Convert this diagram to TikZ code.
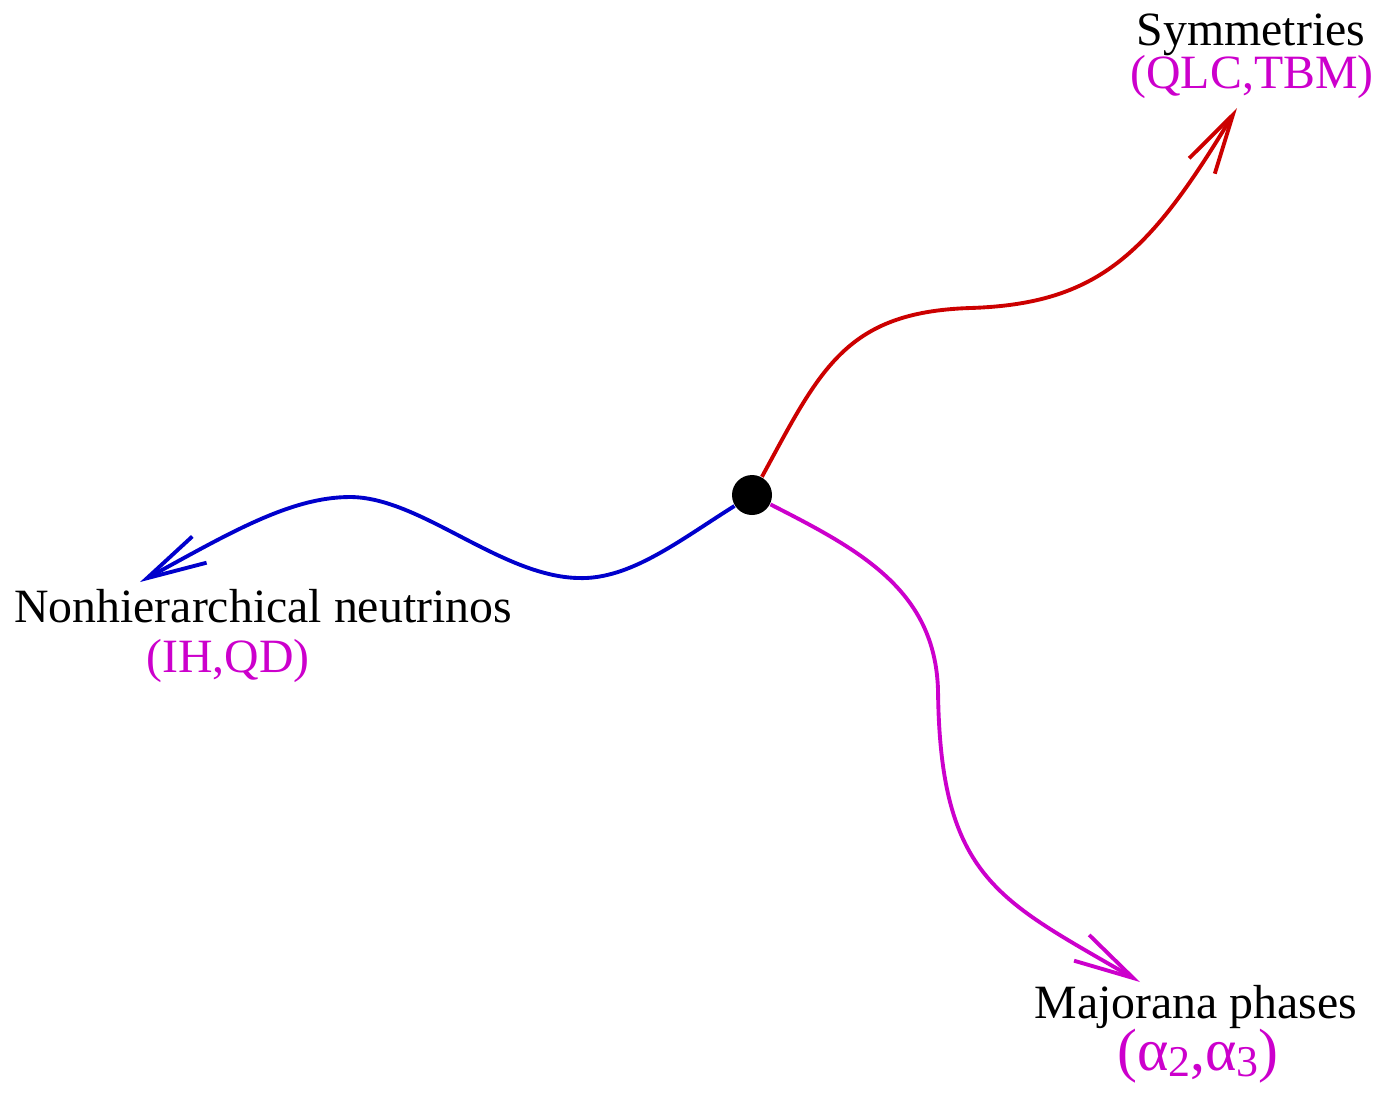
\documentclass[tikz,border=0pt]{standalone}
\usepackage{fontspec}
\setmainfont{Liberation Serif}
\usetikzlibrary{arrows.meta}
\definecolor{symred}{RGB}{204,0,0}
\definecolor{hierblue}{RGB}{0,0,204}
\definecolor{phasemag}{RGB}{204,0,204}

\begin{document}
\begin{tikzpicture}[x=1cm,y=1cm,
 lbl/.style={anchor=base,inner sep=0pt,font=\fontsize{13.6}{16}\selectfont},
 sublbl/.style={lbl,text=phasemag},
 wave/.style={line width=1.1pt,-{Straight Barb[length=17pt,width=8.5pt]}}]
\useasboundingbox (0,0) rectangle (13.81,-10.96);
\node[circle,fill=black,minimum size=0.4cm,inner sep=0pt] (hub) at (7.52,-4.95) {};
% labels
\node[lbl] (sym) at (12.51,-0.45) {Symmetries};
\node[sublbl] (symsub) at (12.52,-0.88) {(QLC,TBM)};
\node[lbl] (hier) at (2.63,-6.22) {Nonhierarchical neutrinos};
\node[sublbl] (hiersub) at (2.28,-6.72) {(IH,QD)};
\node[lbl] (maj) at (11.96,-10.18) {Majorana phases};
\node[sublbl,font=\fontsize{17}{20}\selectfont] (majsub) at (11.98,-10.70) {(α\raisebox{-0.25ex}{\fontsize{12.5}{14}\selectfont 2},α\raisebox{-0.25ex}{\fontsize{12.5}{14}\selectfont 3})};
% arrow tips
\coordinate (tipsym) at (12.37,-1.08);
\coordinate (tiphier) at (1.40,-5.82);
\coordinate (tipmaj) at (11.40,-9.82);
\draw[wave,symred] (hub) .. controls (8.20,-3.70) and (8.45,-3.12) .. (9.70,-3.08)
  .. controls (11.00,-3.04) and (11.50,-2.52) .. (tipsym);
\draw[wave,hierblue] (hub) .. controls (6.80,-5.40) and (6.30,-5.80) .. (5.78,-5.78)
  .. controls (5.00,-5.76) and (4.20,-4.97) .. (3.50,-4.97)
  .. controls (2.90,-4.97) and (2.28,-5.34) .. (tiphier);
\draw[wave,phasemag] (hub) .. controls (8.60,-5.50) and (9.35,-5.90) .. (9.38,-6.90)
  .. controls (9.40,-8.80) and (10.00,-9.00) .. (tipmaj);
\end{tikzpicture}
\end{document}
